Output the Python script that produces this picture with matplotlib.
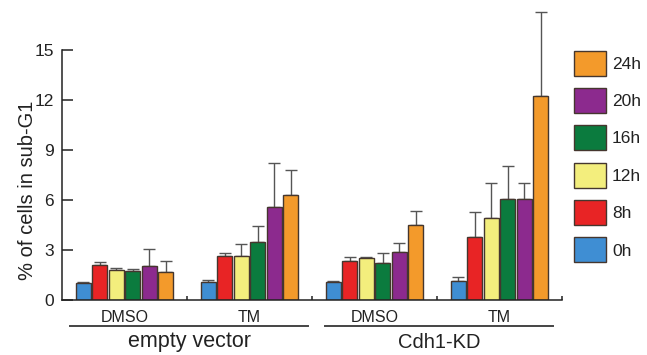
import matplotlib
matplotlib.use("Agg")
import matplotlib.pyplot as plt
import numpy as np

plt.rcParams['font.family'] = ['Liberation Sans', 'DejaVu Sans']

# ---- data ----
conditions = ["DMSO", "TM", "DMSO", "TM"]
vectors = ["empty vector", "Cdh1-KD"]
timepoints = ["0h", "8h", "12h", "16h", "20h", "24h"]
colors = ["#3F8ED3", "#E82425", "#F3EE7D", "#0B7B3E", "#8C2A8E", "#F39A2B"]

# values per timepoint, one entry per condition group
v_0h  = [1.00, 1.10, 1.10, 1.14]
v_8h  = [2.10, 2.64, 2.34, 3.80]
v_12h = [1.80, 2.64, 2.50, 4.90]
v_16h = [1.74, 3.48, 2.24, 6.06]
v_20h = [2.04, 5.58, 2.86, 6.06]
v_24h = [1.70, 6.30, 4.50, 12.24]

# upper error bar tops
t_0h  = [1.10, 1.20, 1.14, 1.36]
t_8h  = [2.30, 2.80, 2.56, 5.30]
t_12h = [1.94, 3.36, 2.56, 7.00]
t_16h = [1.84, 4.44, 2.84, 8.06]
t_20h = [3.04, 8.20, 3.40, 7.04]
t_24h = [2.34, 7.80, 5.36, 17.30]

values = [v_0h, v_8h, v_12h, v_16h, v_20h, v_24h]
tops = [t_0h, t_8h, t_12h, t_16h, t_20h, t_24h]

yticks = [0, 3, 6, 9, 12, 15]

# ---- figure ----
fig = plt.figure(figsize=(6.47, 3.55), dpi=100)
ax = fig.add_axes([62/647, 55/355, 500/647, 250/355])

dark = "#222222"
edge = "#45362e"
centers = np.arange(len(conditions)) + 0.5
pitch = 0.132
width = 0.12

handles = []
for i, (tp, col, vals, tp_tops) in enumerate(zip(timepoints, colors, values, tops)):
    x = centers + (i - 2.5) * pitch
    vals = np.array(vals)
    err = np.array(tp_tops) - vals
    b = ax.bar(x, vals, width=width, color=col, edgecolor=edge, linewidth=1.0,
               zorder=2, label=tp)
    ax.errorbar(x, vals, yerr=[np.zeros_like(err), err], fmt='none',
                ecolor="#555555", elinewidth=1.0, capsize=4.5, capthick=1.0,
                zorder=1, clip_on=False)
    handles.append(b)

ax.set_xlim(0, len(conditions))
ax.set_ylim(0, 15)
ax.set_yticks(yticks)
ax.set_yticklabels([str(t) for t in yticks], fontsize=12.5, color=dark)
ax.set_xticks(np.arange(1, len(conditions) + 1))
ax.set_xticklabels([])
ax.tick_params(axis='y', direction='in', length=8, width=1.1, pad=6, colors=dark)
ax.tick_params(axis='x', direction='in', length=3, width=1.1, colors=dark)
for s in ['top', 'right']:
    ax.spines[s].set_visible(False)
for s in ['left', 'bottom']:
    ax.spines[s].set_linewidth(1.1)
    ax.spines[s].set_color(dark)

ax.set_ylabel("% of cells in sub-G1", fontsize=14.5, color=dark)
ax.yaxis.set_label_coords(-0.05, 0.44)

tr = ax.get_xaxis_transform()
for c, lab in zip(centers, conditions):
    ax.text(c, -0.087, lab, transform=tr, ha='center', va='baseline',
            fontsize=11.5, color=dark)
line_spans = [(0.064, 1.968), (2.104, 3.928)]
vec_sizes = [15.5, 14.5]
for (x0, x1), vec, fs in zip(line_spans, vectors, vec_sizes):
    ax.plot([x0, x1], [-0.104, -0.104], transform=tr, color="#444444",
            linewidth=1.4, clip_on=False)
    ax.text((x0 + x1) / 2, -0.19, vec, transform=tr, ha='center',
            va='baseline', fontsize=fs, color=dark)

leg = ax.legend(handles[::-1], timepoints[::-1], loc='upper left',
                bbox_to_anchor=(574/647, 1 - 50.7/355),
                bbox_transform=fig.transFigure, frameon=False,
                fontsize=12.5, borderpad=0, borderaxespad=0,
                handlelength=1.84, handleheight=1.84, labelspacing=0.71,
                handletextpad=0.35)
for t in leg.get_texts():
    t.set_color(dark)

fig.savefig("out.png", dpi=100)
